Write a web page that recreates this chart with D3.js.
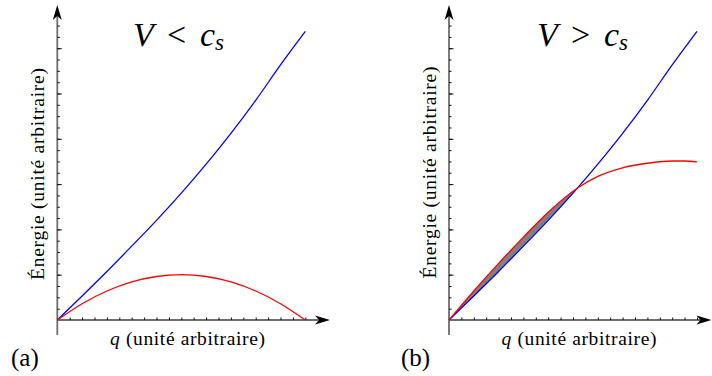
<!DOCTYPE html>
<html>
<head>
<meta charset="utf-8">
<script src="https://cdn.jsdelivr.net/npm/d3@7"></script>
</head>
<body style="margin:0">
<script>
// values (q and energy in arbitrary units)
const blueQ = [0, 0.5, 1, 1.5, 2, 2.5, 3, 3.5, 4, 4.5, 5];
const blueE = [0, 0.53, 1.07, 1.63, 2.2, 2.8, 3.44, 4.12, 4.85, 5.63, 6.37];

const redAQ = [0, 0.5, 1, 1.5, 2, 2.5, 3, 3.5, 4, 4.5, 5];
const redAE = [0, 0.36, 0.64, 0.84, 0.96, 1.0, 0.96, 0.84, 0.64, 0.36, 0];

const redBQ = [0, 0.5, 1, 1.5, 2, 2.6, 3, 3.5, 4, 4.5, 4.75, 5];
const redBE = [0, 0.64, 1.25, 1.83, 2.38, 2.92, 3.17, 3.36, 3.46, 3.51, 3.51, 3.49];

const crossQ = 2.6;  // where red meets blue in (b)
const xMinor = d3.range(0.25, 5.01, 0.25);
const yMinor = d3.range(0.25, 6.51, 0.25);
const yMajor = [1, 2, 3, 4, 5, 6];

const W = 712, H = 376;
const svg = d3.select("body").append("svg")
  .attr("width", W).attr("height", H);

const zip = (qs, es) => qs.map((q, i) => ({q: q, e: es[i]}));

function panel(opt) {
  let x = d3.scaleLinear().domain([0, 5]).range([opt.ox, opt.ox + 248]);
  let y = d3.scaleLinear().domain([0, 1]).range([320, 320 - 45.3]);

  let line = d3.line().x(d => x(d.q)).y(d => y(d.e)).curve(d3.curveMonotoneX);
  let blue = zip(blueQ, blueE);
  let red = zip(opt.redQ, opt.redE);

  if (opt.fill) {
    let clipId = "clip" + opt.name;
    svg.append("clipPath").attr("id", clipId)
      .append("rect")
      .attr("x", x(0)).attr("y", 0)
      .attr("width", x(crossQ) - x(0)).attr("height", y(0));
    let area = d3.area().x(d => x(d.q)).y0(y(0)).y1(d => y(d.e)).curve(d3.curveMonotoneX);
    svg.append("path").datum(red).attr("d", area)
      .attr("fill", "#808080").attr("clip-path", `url(#${clipId})`);
    svg.append("path").datum(blue).attr("d", area)
      .attr("fill", "#fff").attr("clip-path", `url(#${clipId})`);
  }

  // axis lines
  svg.append("line")
    .attr("x1", x(0)).attr("x2", opt.xTip - 10)
    .attr("y1", y(0)).attr("y2", y(0))
    .attr("stroke", "#6e6e6e").attr("stroke-width", 1.8);
  svg.append("line")
    .attr("x1", x(0)).attr("x2", x(0))
    .attr("y1", 335).attr("y2", 15)
    .attr("stroke", "#6e6e6e").attr("stroke-width", 1.8);

  // ticks
  let ticks = svg.append("g");
  ticks.append("g").attr("transform", `translate(0,${y(0)})`)
    .call(d3.axisTop(x).tickValues(xMinor).tickSize(2.5).tickFormat(""));
  ticks.append("g").attr("transform", `translate(${x(0)},0)`)
    .call(d3.axisRight(y).tickValues(yMinor).tickSize(2.5).tickFormat(""));
  ticks.append("g").attr("transform", `translate(${x(0)},0)`)
    .call(d3.axisRight(y).tickValues(yMajor).tickSize(4.5).tickFormat(""));
  ticks.selectAll(".domain").remove();
  ticks.selectAll(".tick text").remove();
  ticks.selectAll(".tick line").attr("stroke", "#111").attr("stroke-width", 1);

  // stealth arrow heads
  let tx = opt.xTip, ty = y(0);
  svg.append("path")
    .attr("d", `M${tx},${ty} L${tx - 15},${ty - 4.5} L${tx - 11},${ty} L${tx - 15},${ty + 4.5} Z`)
    .attr("fill", "#000");
  let ax = x(0), ay = 5;
  svg.append("path")
    .attr("d", `M${ax},${ay} L${ax - 4.5},${ay + 15} L${ax},${ay + 11} L${ax + 4.5},${ay + 15} Z`)
    .attr("fill", "#000");

  // curves
  svg.append("path").datum(blue).attr("d", line)
    .attr("fill", "none").attr("stroke", "#0000ff").attr("stroke-width", 1.3);
  svg.append("path").datum(red).attr("d", line)
    .attr("fill", "none").attr("stroke", "#ff0000").attr("stroke-width", 1.3);

  // axis labels
  svg.append("text")
    .attr("transform", `translate(${opt.ylabX},${opt.ylabY}) rotate(-90)`)
    .attr("text-anchor", "middle")
    .attr("font-family", "Liberation Serif")
    .attr("font-size", 19.5)
    .attr("textLength", 212).attr("lengthAdjust", "spacing")
    .text("Énergie (unité arbitraire)");
  let xl = svg.append("text")
    .attr("x", opt.xlabX).attr("y", 345)
    .attr("text-anchor", "middle")
    .attr("font-family", "Liberation Serif")
    .attr("font-size", 19.5)
    .attr("textLength", 155).attr("lengthAdjust", "spacing");
  xl.append("tspan").attr("font-style", "italic").text("q");
  xl.append("tspan").text(" (unité arbitraire)");

  // title
  let t = svg.append("text").attr("y", 46).attr("font-size", 34)
    .attr("font-family", "Liberation Serif");
  t.append("tspan").attr("x", opt.tx0).attr("font-style", "italic").text("V");
  t.append("tspan").attr("x", opt.tx0 + 34).text(opt.rel);
  t.append("tspan").attr("x", opt.tx0 + 67).attr("font-style", "italic").text("c");
  t.append("tspan").attr("x", opt.tx0 + 82).attr("dy", 4).attr("font-size", 23)
    .attr("font-style", "italic").text("s");

  // panel letter
  svg.append("text").attr("x", opt.px).attr("y", 366)
    .attr("font-family", "Liberation Serif")
    .attr("font-size", 25).text(opt.letter);
}

panel({name: "a", ox: 57.3, xTip: 330, redQ: redAQ, redE: redAE, fill: false,
       ylabX: 43.5, ylabY: 174, xlabX: 187.5, tx0: 133, rel: "<", px: 11, letter: "(a)"});
panel({name: "b", ox: 449, xTip: 711.5, redQ: redBQ, redE: redBE, fill: true,
       ylabX: 435.5, ylabY: 172.5, xlabX: 579, tx0: 537, rel: ">", px: 401, letter: "(b)"});
</script>
</body>
</html>
